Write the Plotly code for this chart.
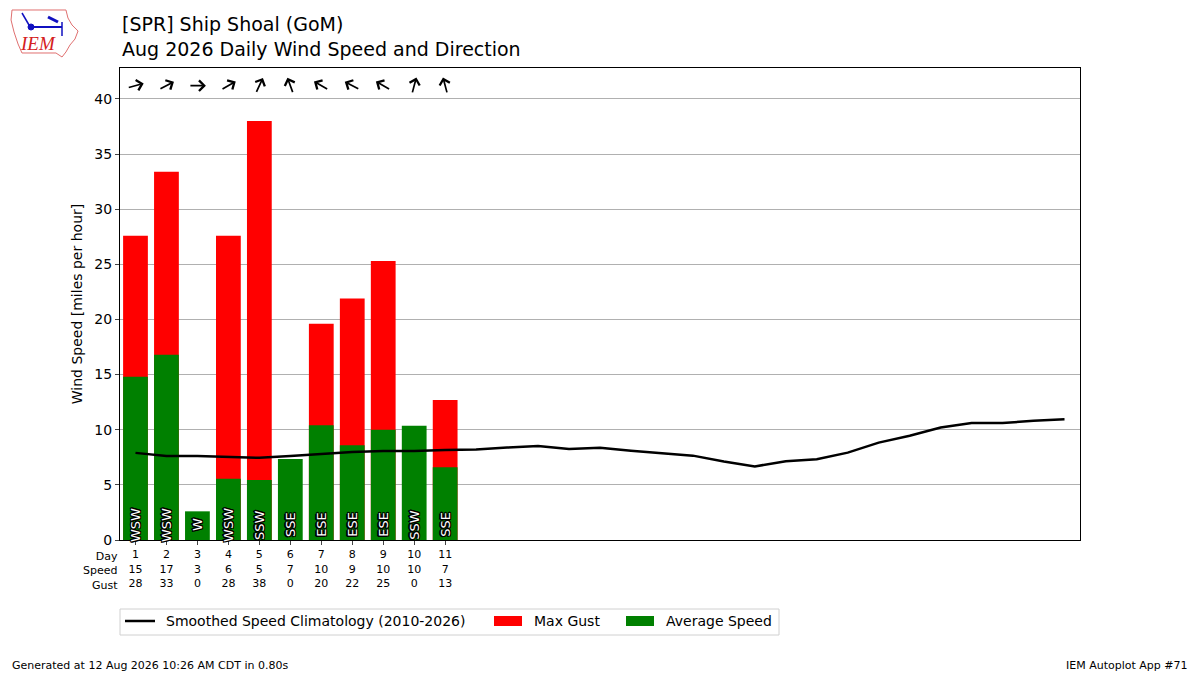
import math
import plotly.graph_objects as go

# observed days
days = [1, 2, 3, 4, 5, 6, 7, 8, 9, 10, 11]
avg_speed = [14.8, 16.8, 2.6, 5.55, 5.45, 7.35, 10.4, 8.6, 10.0, 10.35, 6.6]
max_gust = [27.6, 33.4, 0, 27.6, 38.0, 0, 19.6, 21.9, 25.3, 0, 12.7]
dir_text = ["WSW", "WSW", "W", "WSW", "SSW", "SSE", "ESE", "ESE", "ESE", "SSW", "SSE"]
dir_deg = [255, 242, 270, 240, 205, 160, 120, 118, 120, 195, 165]

# smoothed climatology for every day of the month
clim_days = list(range(1, 32))
clim_speed = [7.9, 7.62, 7.62, 7.55, 7.45, 7.62, 7.8, 7.98, 8.07, 8.07, 8.16,
              8.2, 8.38, 8.53, 8.25, 8.37, 8.1, 7.86, 7.65, 7.12, 6.67, 7.15,
              7.33, 7.92, 8.83, 9.45, 10.2, 10.6, 10.6, 10.82, 10.94]

title = "[SPR] Ship Shoal (GoM)<br>Aug 2026 Daily Wind Speed and Direction"
font = "DejaVu Sans"
RED = "#ff0000"
GREEN = "#008000"

# plot box in pixels: left 120, top 68, 960 x 472
def px(x):
    return (x - 120) / 960.0

def py(y):
    return (540 - y) / 472.0

fig = go.Figure()
fig.add_trace(go.Bar(x=days, y=max_gust, width=0.8, marker_color=RED,
                     marker_line_width=0, name="Max Gust", showlegend=False))
fig.add_trace(go.Bar(x=days, y=avg_speed, width=0.8, marker_color=GREEN,
                     marker_line_width=0, name="Average Speed", showlegend=False))
fig.add_trace(go.Scatter(x=clim_days, y=clim_speed, mode="lines",
                         line=dict(color="black", width=2.5),
                         name="Smoothed Speed Climatology (2010-2026)", showlegend=False))

# table under the axis: day / speed / gust
ticktext = ["%d<br>%d<br>%d" % (d, int(s + 0.5), int(g + 0.5))
            for d, s, g in zip(days, avg_speed, max_gust)]

anns = []
# direction labels inside the bars: black halo first, white text on top
halo = [(-1, -1), (-1, 1), (1, -1), (1, 1), (0, 1.4), (0, -1.4), (1.4, 0), (-1.4, 0)]
for d, t in zip(days, dir_text):
    for dx, dy in halo:
        anns.append(dict(x=d, y=1.4, text=t, showarrow=False, textangle=-90,
                         yanchor="middle", yshift=dy, xshift=dx,
                         font=dict(family=font, size=13, color="black")))
for d, t in zip(days, dir_text):
    anns.append(dict(x=d, y=1.4, text=t, showarrow=False, textangle=-90,
                     yanchor="middle",
                     font=dict(family=font, size=13, color="white")))

# wind arrows at top
L = 17.0
for d, deg in zip(days, dir_deg):
    to = math.radians(deg + 180)
    u, v = math.sin(to), math.cos(to)
    anns.append(dict(x=d + (L / 2) * u / 31.0, y=41.2 + (L / 2) * v / 11.03,
                     ax=-L * u, ay=L * v, text="", showarrow=True,
                     arrowhead=4, arrowsize=1.2, arrowwidth=1.7, arrowcolor="black"))

anns.append(dict(x=0, xref="paper", y=0, yref="paper", yshift=-8, xanchor="right",
                 yanchor="top", align="right", showarrow=False, text="Day<br>Speed<br>Gust",
                 font=dict(family=font, size=11, color="black")))
anns.append(dict(x=0, xref="paper", y=py(11), yref="paper", xanchor="left",
                 yanchor="top", align="left", showarrow=False, text=title,
                 font=dict(family=font, size=19, color="black")))
anns.append(dict(x=px(10), xref="paper", y=py(665), yref="paper", xanchor="left",
                 yanchor="middle", showarrow=False,
                 text="Generated at 12 Aug 2026 10:26 AM CDT in 0.80s",
                 font=dict(family=font, size=11, color="black")))
anns.append(dict(x=px(1190), xref="paper", y=py(665), yref="paper", xanchor="right",
                 yanchor="middle", showarrow=False, text="IEM Autoplot App #71",
                 font=dict(family=font, size=11, color="black")))
anns.append(dict(x=px(38), xref="paper", y=py(44), yref="paper", xanchor="center",
                 yanchor="middle", showarrow=False, text="<i>IEM</i>",
                 font=dict(family="Liberation Serif", size=19, color="#d42020")))

# legend drawn by hand, matplotlib style
legend_items = [("Smoothed Speed Climatology (2010-2026)", 164), ("Max Gust", 532),
                ("Average Speed", 664)]
for name, x0 in legend_items:
    anns.append(dict(x=px(x0), xref="paper", y=py(621), yref="paper", xanchor="left",
                     yanchor="middle", showarrow=False, text=name,
                     font=dict(family=font, size=14, color="black")))

# small logo outline
logo = [(12, 10), (66, 10), (68, 18), (72, 25), (78, 31), (75, 39), (70, 45),
        (66, 52), (62, 57), (56, 53), (22, 53), (18, 44), (14, 32), (11, 20)]
logo_path = "M " + " L ".join("%.4f %.4f" % (px(a), py(b)) for a, b in logo) + " Z"
blue = "#1010c0"
shapes = [dict(type="path", path=logo_path,
               line=dict(color="#e07070", width=1), fillcolor="rgba(0,0,0,0)"),
          dict(type="line", x0=px(31), y0=py(27), x1=px(62), y1=py(27),
               line=dict(color=blue, width=2)),
          dict(type="circle", x0=px(28), y0=py(24), x1=px(34), y1=py(30),
               line=dict(color=blue, width=1), fillcolor=blue),
          dict(type="line", x0=px(48), y0=py(17), x1=px(58), y1=py(22),
               line=dict(color=blue, width=3)),
          dict(type="line", x0=px(22), y0=py(13), x1=px(29), y1=py(25),
               line=dict(color=blue, width=1.5)),
          dict(type="line", x0=px(62), y0=py(22), x1=px(62), y1=py(36),
               line=dict(color=blue, width=1.5)),
          # legend frame and keys
          dict(type="rect", x0=px(120), y0=py(609), x1=px(779), y1=py(635),
               line=dict(color="#d0d0d0", width=1), fillcolor="white"),
          dict(type="line", x0=px(125), y0=py(621), x1=px(155), y1=py(621),
               line=dict(color="black", width=2.5)),
          dict(type="rect", x0=px(494), y0=py(616), x1=px(522), y1=py(626),
               line=dict(width=0), fillcolor=RED),
          dict(type="rect", x0=px(626), y0=py(616), x1=px(654), y1=py(626),
               line=dict(width=0), fillcolor=GREEN)]
for s in shapes:
    s.update(xref="paper", yref="paper", opacity=1)

fig.update_layout(
    width=1200, height=675, template="simple_white", barmode="overlay",
    paper_bgcolor="white", plot_bgcolor="white",
    margin=dict(l=120, r=120, t=68, b=135),
    font=dict(family=font, size=14, color="black"),
    annotations=anns, shapes=shapes,
    showlegend=False,
)
fig.update_xaxes(range=[0.5, 31.5], tickmode="array", tickvals=days, ticktext=ticktext,
                 ticks="outside", ticklen=4, showline=True, mirror=True, linecolor="black",
                 tickfont=dict(size=11), showgrid=False, zeroline=False)
fig.update_yaxes(range=[0, 42.8], dtick=5, ticks="outside", ticklen=4, showline=True,
                 mirror=True, linecolor="black", showgrid=True, gridcolor="#b0b0b0",
                 tickfont=dict(size=14),
                 title=dict(text="Wind Speed [miles per hour]", font=dict(size=14), standoff=8),
                 zeroline=False)

fig.write_html("out.html", config={"displayModeBar": False},
               post_script="document.body.style.margin='0px';")
